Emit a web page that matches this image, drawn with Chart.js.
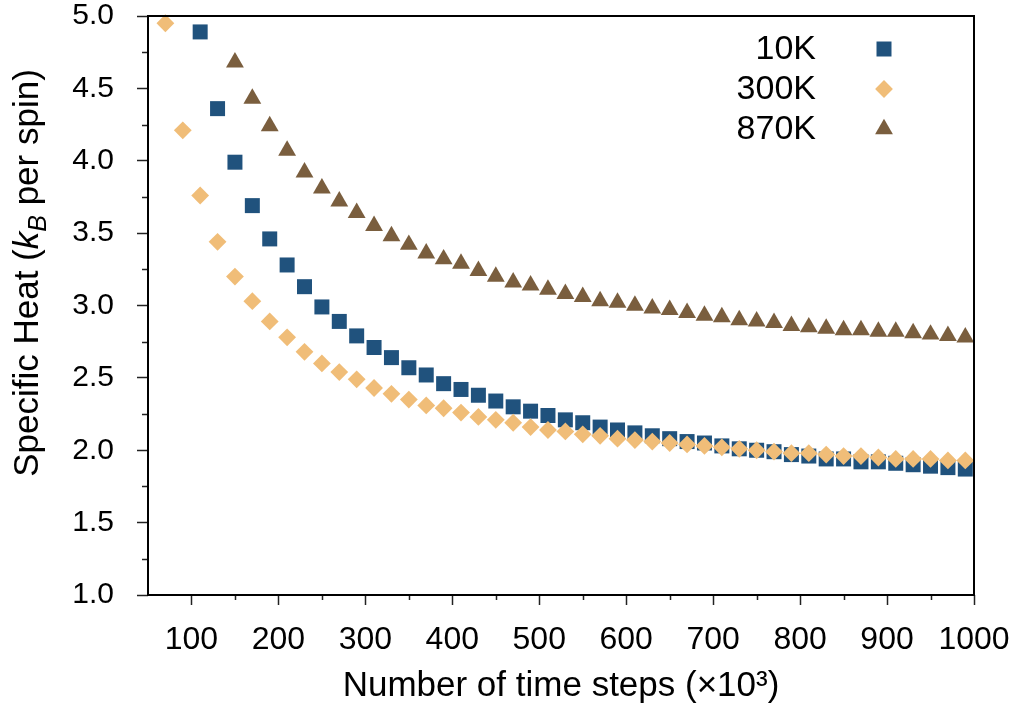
<!DOCTYPE html>
<html>
<head>
<meta charset="utf-8">
<title>Specific heat vs. time steps</title>
<script src="https://cdn.jsdelivr.net/npm/chart.js@4.4.1/dist/chart.umd.min.js"></script>
<style>
  html, body { margin: 0; padding: 0; background: #fff; }
</style>
</head>
<body>
<canvas id="heat" width="1022" height="718"></canvas>
<script>
// time steps (x10^3) shared by all three runs
const steps = [70, 90, 110, 130, 150, 170, 190, 210, 230, 250,
               270, 290, 310, 330, 350, 370, 390, 410, 430, 450,
               470, 490, 510, 530, 550, 570, 590, 610, 630, 650,
               670, 690, 710, 730, 750, 770, 790, 810, 830, 850,
               870, 890, 910, 930, 950, 970, 990];

// specific heat (kB per spin), null where a run has no sample yet
const heat10K = [null, null, 4.89, 4.36, 3.99, 3.69, 3.46, 3.28, 3.13, 2.99,
                 2.89, 2.79, 2.71, 2.64, 2.57, 2.52, 2.46, 2.42, 2.38, 2.34,
                 2.30, 2.27, 2.24, 2.21, 2.19, 2.16, 2.14, 2.12, 2.10, 2.08,
                 2.06, 2.05, 2.03, 2.01, 2.00, 1.99, 1.97, 1.96, 1.94, 1.94,
                 1.92, 1.92, 1.91, 1.90, 1.89, 1.88, 1.87];
const heat300K = [4.95, 4.21, 3.76, 3.44, 3.20, 3.03, 2.89, 2.78, 2.68, 2.60,
                  2.54, 2.49, 2.43, 2.39, 2.35, 2.31, 2.29, 2.26, 2.23, 2.21,
                  2.19, 2.16, 2.14, 2.13, 2.11, 2.10, 2.08, 2.07, 2.06, 2.05,
                  2.04, 2.03, 2.02, 2.01, 2.00, 1.99, 1.98, 1.98, 1.97, 1.96,
                  1.96, 1.95, 1.94, 1.94, 1.94, 1.93, 1.93];
const heat870K = [null, null, null, null, 4.68, 4.43, 4.24, 4.07, 3.92, 3.81,
                  3.72, 3.64, 3.55, 3.48, 3.42, 3.36, 3.32, 3.29, 3.24, 3.20,
                  3.16, 3.14, 3.11, 3.08, 3.06, 3.03, 3.02, 3.00, 2.98, 2.97,
                  2.95, 2.93, 2.92, 2.90, 2.89, 2.88, 2.86, 2.85, 2.84, 2.83,
                  2.83, 2.82, 2.82, 2.81, 2.80, 2.79, 2.78];

// axis ticks
const xTicks = [100, 200, 300, 400, 500, 600, 700, 800, 900, 1000];
const xMinor = [150, 250, 350, 450, 550, 650, 750, 850, 950];
const yTicks = [1.0, 1.5, 2.0, 2.5, 3.0, 3.5, 4.0, 4.5, 5.0];
const yMinor = [1.25, 1.75, 2.25, 2.75, 3.25, 3.75, 4.25, 4.75];

const FONT = '"Liberation Sans", Arial, Helvetica, sans-serif';

function toPoints(vals) {
    let pts = [];
    steps.forEach((x, i) => {
        if (vals[i] !== null) pts.push({ x: x, y: vals[i] });
    });
    return pts;
}

// frame, minor ticks, rotated y title and the in-plot legend
const extras = {
    id: 'extras',
    afterDatasetsDraw(chart) {
        const ctx = chart.ctx;
        const a = chart.chartArea;
        const xs = chart.scales.x, ys = chart.scales.y;

        ctx.save();
        ctx.strokeStyle = '#222';
        ctx.lineWidth = 1.5;
        ctx.beginPath();
        xMinor.forEach(v => {
            const px = Math.round(xs.getPixelForValue(v)) + 0.5;
            ctx.moveTo(px, a.bottom);
            ctx.lineTo(px, a.bottom + 5);
        });
        yMinor.forEach(v => {
            const py = Math.round(ys.getPixelForValue(v)) + 0.5;
            ctx.moveTo(a.left, py);
            ctx.lineTo(a.left - 6, py);
        });
        ctx.stroke();

        ctx.strokeStyle = '#000';
        ctx.lineWidth = 2;
        ctx.strokeRect(a.left, a.top, a.right - a.left, a.bottom - a.top);
        ctx.restore();
    },
    afterDraw(chart) {
        const ctx = chart.ctx;

        // y title: "Specific Heat (k_B per spin)"
        const parts = [
            { t: 'Specific Heat (', f: '35px ' + FONT, dy: 0 },
            { t: 'k', f: 'italic 35px ' + FONT, dy: 0 },
            { t: 'B', f: 'italic 25px ' + FONT, dy: 8 },
            { t: ' per spin)', f: '35px ' + FONT, dy: 0 }
        ];
        let total = 0;
        parts.forEach(p => { ctx.font = p.f; p.w = ctx.measureText(p.t).width; total += p.w; });
        ctx.save();
        ctx.translate(38, 273);
        ctx.rotate(-Math.PI / 2);
        ctx.fillStyle = '#000';
        ctx.textBaseline = 'alphabetic';
        let x = -total / 2;
        parts.forEach(p => {
            ctx.font = p.f;
            ctx.fillText(p.t, x, p.dy);
            x += p.w;
        });
        ctx.restore();

        // legend: label right-aligned, marker to its right
        ctx.save();
        ctx.font = '34px ' + FONT;
        ctx.textAlign = 'right';
        ctx.textBaseline = 'middle';
        chart.data.datasets.forEach((ds, i) => {
            const y = 49 + i * 40;
            ctx.fillStyle = '#000';
            ctx.fillText(ds.label, 816, y + 1);
            ctx.fillStyle = ds.backgroundColor;
            Chart.helpers.drawPoint(ctx, {
                pointStyle: ds.pointStyle, radius: ds.pointRadius, rotation: 0, borderWidth: 0
            }, 884, y);
        });
        ctx.restore();
    }
};

new Chart(document.getElementById('heat'), {
    type: 'scatter',
    data: {
        datasets: [
            { label: '10K', data: toPoints(heat10K), pointStyle: 'rect', pointRadius: 10.6,
              backgroundColor: '#20527d', borderWidth: 0, order: 2 },
            { label: '300K', data: toPoints(heat300K), pointStyle: 'rectRot', pointRadius: 8.9,
              backgroundColor: '#f0bd78', borderWidth: 0, order: 1 },
            { label: '870K', data: toPoints(heat870K), pointStyle: 'triangle', pointRadius: 10.3,
              backgroundColor: '#7a5e3e', borderWidth: 0, order: 0 }
        ]
    },
    options: {
        responsive: false,
        animation: false,
        devicePixelRatio: 1,
        clip: false,
        layout: { autoPadding: false, padding: { top: 16, right: 48, left: 0, bottom: 0 } },
        plugins: { legend: { display: false }, tooltip: { enabled: false } },
        elements: { point: { hoverRadius: 0 } },
        scales: {
            x: {
                type: 'linear',
                min: 50,
                max: 1000,
                afterBuildTicks: s => { s.ticks = xTicks.map(v => ({ value: v })); },
                // fixed axis height, no extra room for the end labels
                afterFit: s => { s.height = 123; s.paddingLeft = 0; s.paddingRight = 0; },
                border: { display: false },
                grid: { drawOnChartArea: false, tickLength: 10, tickColor: '#222', tickWidth: 1.5 },
                ticks: {
                    autoSkip: false, maxRotation: 0, color: '#000', padding: 19,
                    font: { family: FONT, size: 32, lineHeight: 1 },
                    callback: v => String(v)
                },
                title: {
                    display: true,
                    text: 'Number of time steps (×10³)',
                    color: '#000',
                    font: { family: FONT, size: 35, lineHeight: 1 },
                    padding: { top: 0, bottom: 14 }
                }
            },
            y: {
                type: 'linear',
                min: 1,
                max: 5,
                afterBuildTicks: s => { s.ticks = yTicks.map(v => ({ value: v })); },
                afterFit: s => { s.width = 148; s.paddingTop = 0; s.paddingBottom = 0; },
                border: { display: false },
                grid: { drawOnChartArea: false, tickLength: 11, tickColor: '#222', tickWidth: 1.5 },
                ticks: {
                    color: '#000', padding: 23,
                    font: { family: FONT, size: 30, lineHeight: 1 },
                    callback: v => Number(v).toFixed(1)
                }
            }
        }
    },
    plugins: [extras]
});
</script>
</body>
</html>
